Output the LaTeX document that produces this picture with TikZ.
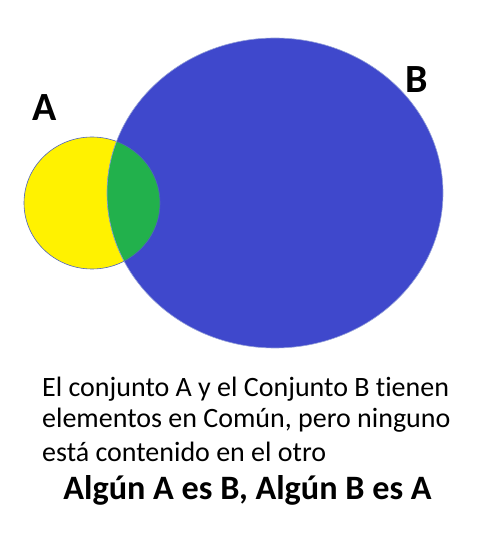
\documentclass[tikz,border=0pt]{standalone}
\usepackage{fontspec}
\setmainfont{Carlito}[Ligatures=NoCommon]
\usepackage{tikz}
\definecolor{setyellow}{RGB}{255,242,0}
\definecolor{setblue}{RGB}{63,72,204}
\definecolor{setgreen}{RGB}{34,177,76}
\definecolor{setline}{RGB}{80,100,190}

\begin{document}
\begin{tikzpicture}[x=1pt,y=1pt]
\useasboundingbox (0,0) rectangle (478,542);
\def\ca{(92,339) ellipse [x radius=68, y radius=66]}
\def\cb{(275,349) ellipse [x radius=168, y radius=155]}

\fill[setyellow] \ca;
\fill[setblue] \cb;
\begin{scope}
\clip \ca;
\fill[setgreen] \cb;
\end{scope}
\draw[setline, line width=.6pt] \ca;
\draw[setline!60!white, line width=.6pt] \cb;

\node[anchor=base, font=\fontsize{40}{48}\selectfont\bfseries] (labA) at (45,421) {A};
\node[anchor=base, font=\fontsize{40}{48}\selectfont\bfseries] (labB) at (417,449) {B};

\node[anchor=base west, inner sep=0, font=\fontsize{28}{33}\selectfont] (line1) at (42,145) {El conjunto A y el Conjunto B tienen};
\node[anchor=base west, inner sep=0, font=\fontsize{28}{33}\selectfont] (line2) at (42,114) {elementos en Común, pero ninguno};
\node[anchor=base west, inner sep=0, font=\fontsize{28}{33}\selectfont] (line3) at (42,80) {está contenido en el otro};
\node[anchor=base, inner sep=0, font=\fontsize{34.2}{42}\selectfont\bfseries] (rule) at (247.5,42) {Algún A es B, Algún B es A};
\end{tikzpicture}
\end{document}
